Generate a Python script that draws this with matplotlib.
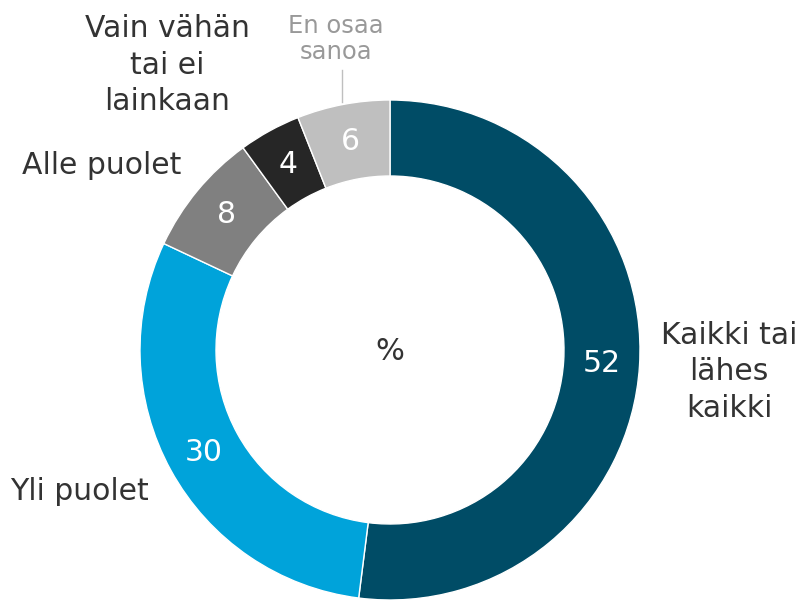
import matplotlib
matplotlib.use("Agg")
import matplotlib.pyplot as plt
import numpy as np

categories = ["Kaikki tai\nlähes\nkaikki", "Yli puolet", "Alle puolet", "Vain vähän\ntai ei\nlainkaan", "En osaa\nsanoa"]
values = [52, 30, 8, 4, 6]
colors = ["#004c66", "#00a3da", "#808080", "#262626", "#bfbfbf"]

plt.rcParams['font.family'] = ['DejaVu Sans']
fig = plt.figure(figsize=(8, 6), dpi=100)
ax = fig.add_axes([0, 0, 1, 1])

cx, cy = 390, 250
R = 250
w = 76
wedges, _ = ax.pie(values, colors=colors, startangle=90, counterclock=False,
                   radius=R, center=(cx, cy), frame=True,
                   wedgeprops=dict(width=w, edgecolor='white', linewidth=1))
ax.set_xlim(0, 800)
ax.set_ylim(0, 600)
ax.set_aspect('equal')
ax.axis('off')

rmid = R - w / 2
for wdg, v in zip(wedges, values):
    ang = np.deg2rad((wdg.theta1 + wdg.theta2) / 2)
    ax.text(cx + rmid * np.cos(ang), cy + rmid * np.sin(ang), str(v),
            ha='center', va='center', color='white', fontsize=21.5)

tc = '#333333'
fs = 21.5
ax.text(729, 228, categories[0], ha='center', va='center', color=tc, fontsize=fs,
        linespacing=1.33, multialignment='center')
ax.text(10, 108, categories[1], ha='left', va='center', color=tc, fontsize=fs)
ax.text(22, 434, categories[2], ha='left', va='center', color=tc, fontsize=fs)
ax.text(167, 535, categories[3], ha='center', va='center', color=tc, fontsize=fs,
        linespacing=1.33, multialignment='center')
ax.text(336, 561, categories[4], ha='center', va='center', color='#999999', fontsize=17.5,
        linespacing=1.15, multialignment='center')
ax.plot([342, 342], [498, 530], color='#bfbfbf', lw=1)

ax.text(cx, cy - 2, '%', ha='center', va='center', color=tc, fontsize=22)

fig.savefig('out.png', dpi=100)
